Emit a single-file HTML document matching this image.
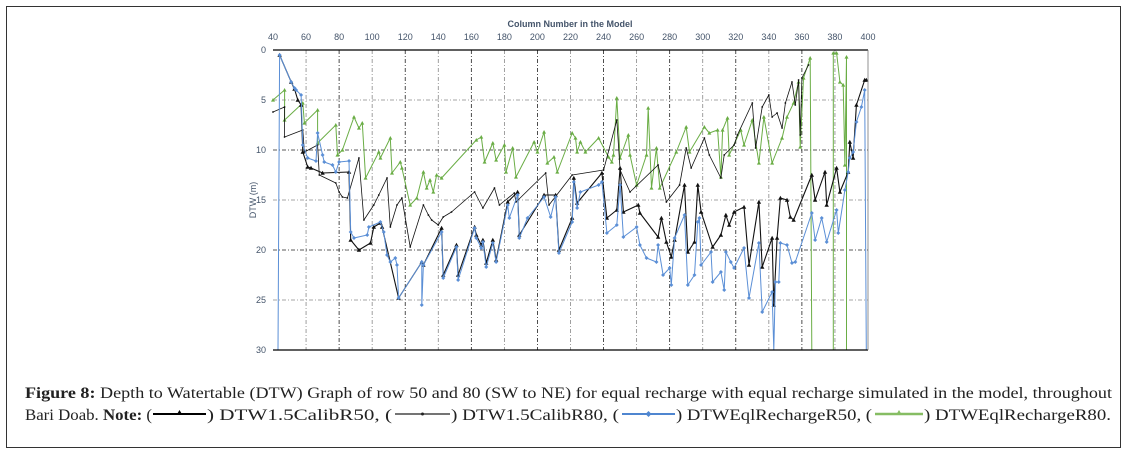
<!DOCTYPE html>
<html><head><meta charset="utf-8"><style>
html,body{margin:0;padding:0;background:#fff;}
svg{display:block;}
</style></head><body>
<svg id="chart" width="1128" height="452" viewBox="0 0 1128 452" xmlns="http://www.w3.org/2000/svg">
<rect x="6.5" y="6.5" width="1114" height="441" fill="none" stroke="#333" stroke-width="1"/>
<g id="grid"></g>
<g id="series"></g>
<g id="axes"></g>
<text x="570" y="27" font-family="Liberation Sans, sans-serif" font-size="9" font-weight="bold" fill="#44546a" text-anchor="middle">Column Number in the  Model</text>
<text transform="translate(256,200) rotate(-90)" font-family="Liberation Sans, sans-serif" font-size="9" fill="#44546a" text-anchor="middle">DTW  (m)</text>
<g font-family="Liberation Serif, serif" font-size="15.5" fill="#222">
<text x="25" y="398" textLength="1087" lengthAdjust="spacingAndGlyphs"><tspan font-weight="bold">Figure 8:</tspan> Depth to Watertable (DTW) Graph of row 50 and 80 (SW to NE) for equal recharge with equal recharge simulated in the model, throughout</text>
<text x="25" y="420" textLength="127" lengthAdjust="spacingAndGlyphs">Bari Doab. <tspan font-weight="bold">Note:</tspan> (</text>
</g>
<g id="legend"></g>
</svg>
<script>
// ---- data ----
const xTicks=[40,60,80,100,120,140,160,180,200,220,240,260,280,300,320,340,360,380,400];
const yTicks=[0,5,10,15,20,25,30];
const seriesNames=["DTW1.5CalibR50","DTW1.5CalibR80","DTWEqlRechargeR50","DTWEqlRechargeR80"];
const calibR50Cols=[44,51,53,55,57,58,61,63,70,86,87,92,99,101,105,106,116,130,131,142,143,151,152,162,163,166,167,169,173,175,182,188,189,204,211,213,221,222,224,239,242,248,250,252,261,262,273,275,278,281,283,289,291,295,297,299,306,311,314,316,319,325,328,334,336,342,343,345,347,351,353,355,366,368,374,375,381,383,388,389,391,393,398,399];
const calibR50Vals=[0.5,3.2,3.9,5,5.5,10.2,11.7,11.8,12.3,12.2,19,20,19.3,17.7,17.3,17.7,24.8,21.2,21.5,17.8,22.5,19.5,22.5,17.7,18.5,19.5,19,21.3,19,21,15.2,14.2,18.5,14.5,14.5,20,16.8,12.8,15.3,12.3,16.8,16,11.8,16.2,15.5,16.3,18.7,16.8,19.2,20.7,19,13.5,20.2,19.2,13.5,16.2,19.7,18.5,16.5,17.5,16.2,15.7,21.5,15.2,21.7,18.8,25.5,18.8,14.8,15,16.7,17,12.5,15,12.2,15.5,11.8,14.2,12.2,9.2,10.8,5.5,3,3];
const calibR80Cols=[40,47,47,58,59,67,68,78,80,82,85,92,95,101,104,109,111,115,118,123,131,134,136,140,143,148,162,167,174,177,186,187,205,207,221,240,248,250,256,273,278,286,290,293,301,304,311,313,319,321,330,332,336,340,342,345,348,350,354,356,358,359,360,364];
const calibR80Vals=[6.2,5.7,8.7,8,10.2,9.5,12.5,13.3,14.2,14.7,14.8,10.8,17,15.5,14.5,12.8,17.7,15.5,14.8,19.7,15.5,16.5,17,17.5,16.7,16.2,14.2,15.8,13.8,15.5,14.3,15.2,12.3,15.5,12.5,12,7,12,14.2,11.5,15.2,13.5,9.8,11.8,8.8,10.5,12.8,10.5,9.5,8.5,5.3,9.8,5.7,4.5,6.7,6.3,7.8,5.3,3.2,5.5,3,8.5,2.8,1.5];
const eqlR50Cols=[43,44,51,53,54,57,58,61,66,67,70,71,76,78,80,86,87,89,97,98,105,107,109,111,114,115,116,130,130,131,142,143,151,152,162,163,166,167,169,173,175,182,183,188,189,194,204,208,211,213,221,222,224,226,237,239,242,248,250,252,260,262,266,272,273,276,280,281,283,289,291,295,297,298,299,305,306,311,313,314,317,319,325,328,334,336,342,343,344,346,347,351,354,356,366,368,372,375,381,382,386,388,389,391,393,396,398,399];
const eqlR50Vals=[30,0.5,3.2,3.8,4,4.5,9.5,10.8,11.1,8.3,10.5,11.2,11.5,12.2,11.2,11.1,18.2,18.8,18.5,17.7,17.2,18.2,20.5,21.2,20.8,21.5,24.8,21.2,25.5,21.5,18.2,22.8,19.7,23,17.8,18.8,19.8,19.2,21.7,19.3,21.2,15.5,16.8,14.5,18.8,16.8,14.7,16.7,14.7,20.3,17.2,13.2,15.8,14.2,13.5,13.2,18.3,17.5,13.5,18.7,17.7,19.5,20.8,21.2,19.5,22.5,21.8,23.5,18.8,16.5,23.5,22.5,17.2,16.8,21.5,20.2,23.2,22.2,24,20.2,21.2,21.8,19.8,24.8,19.3,26.2,24.2,30,23.2,23.2,19.3,19.5,21.3,21.2,16.3,19,16.8,19.2,16,18.3,14,12.2,10.8,10.2,7.2,5.7,4,30];
const eqlR80Cols=[40,47,47,58,59,67,67,78,79,82,89,92,94,96,104,105,111,112,117,118,123,127,131,133,135,137,139,142,163,166,168,173,175,180,181,185,187,198,200,204,206,210,212,221,223,224,226,229,237,243,245,246,248,250,255,256,260,266,267,269,272,274,284,290,292,301,304,309,311,312,315,316,323,325,330,334,337,342,348,351,355,358,359,361,365,366,379,379,381,383,385,386,387,387];
const eqlR80Vals=[5,4,7,5.3,7.3,6,9.3,7.5,10.5,10,6.7,7.8,7.3,12.8,10.2,10.8,8.8,12.3,11.2,11.8,15.5,14.8,12.2,13.8,13,14.2,12.5,12.8,9,8.7,11.2,9.3,11,9.5,12.2,9.8,12.7,9.2,10.2,8.2,11.3,10.7,12.2,8.3,8.8,10.2,9.2,10.2,8.8,10.7,11.2,10.5,4.8,10.8,8.5,10.5,13.5,10.5,5.8,13.8,9.8,13.8,10.2,7.7,10.2,7.7,8.3,8,12.7,8,6.8,10.5,8,9.5,7,11.3,6.7,11.3,8.8,6.7,5.3,3.2,9.7,2.8,0.8,30,30,0.3,0.3,3.2,3.5,11.5,0.7,30];

// ---- axes ----
const X0=273,X1=868,Y0=50,Y1=350;
const xs=c=>X0+(c-40)*(X1-X0)/360;
const ys=d=>Y0+d*(Y1-Y0)/30;
const NS="http://www.w3.org/2000/svg";
function mk(tag,attrs,parent){const e=document.createElementNS(NS,tag);for(const k in attrs)e.setAttribute(k,attrs[k]);parent.appendChild(e);return e;}
const gridG=document.getElementById('grid'),axesG=document.getElementById('axes'),serG=document.getElementById('series'),legG=document.getElementById('legend');

xTicks.forEach((t,i)=>{
  if(i>0&&i<xTicks.length-1){const l=mk('line',{x1:xs(t),x2:xs(t),y1:Y0,y2:Y1,stroke:(t%40===0)?'#222':'#888','stroke-width':'0.8','stroke-dasharray':'4,2,1,2'},gridG);
  
  }
  const tx=mk('text',{x:xs(t),y:40,'font-family':'Liberation Sans, sans-serif','font-size':'9',fill:'#44546a','text-anchor':'middle'},axesG);
  tx.textContent=t;
  
  
});
yTicks.forEach((t,i)=>{
  if(i>0&&i<yTicks.length-1){const l=mk('line',{x1:X0,x2:X1,y1:ys(t),y2:ys(t),stroke:(t%10===0)?'#222':'#888','stroke-width':'0.8','stroke-dasharray':'4,2,1,2'},gridG);
  
  }
  const tx=mk('text',{x:266,y:ys(t)+3,'font-family':'Liberation Sans, sans-serif','font-size':'9',fill:'#44546a','text-anchor':'end'},axesG);
  tx.textContent=t;
  
  
});
const axTop=mk('line',{x1:X0,x2:X1,y1:Y0,y2:Y0,stroke:'#000','stroke-width':'1.2'},axesG);


const axBot=mk('line',{x1:X0,x2:X1,y1:Y1,y2:Y1,stroke:'#000','stroke-width':'1.2'},axesG);


const axRgt=mk('line',{x1:X1,x2:X1,y1:Y0,y2:Y1,stroke:'#777','stroke-width':'0.8'},axesG);



const styles=[
 {cols:calibR50Cols,vals:calibR50Vals,color:'#111',w:1.1,m:'tri',ms:2.2,name:'series-dtw1.5-calib-r50'},
 {cols:calibR80Cols,vals:calibR80Vals,color:'#111',w:0.8,m:'dot',ms:0.9,name:'series-dtw1.5-calib-r80'},
 {cols:eqlR50Cols,vals:eqlR50Vals,color:'#5b8fd6',w:1,m:'dia',ms:2,name:'series-dtw-eql-recharge-r50'},
 {cols:eqlR80Cols,vals:eqlR80Vals,color:'#6aad45',w:1,m:'tri',ms:2,name:'series-dtw-eql-recharge-r80'}
];
[3,1,0,2].forEach(si=>{
  const s=styles[si];
  const n=Math.min(s.cols.length,s.vals.length);
  const g=mk('g',{},serG);
  
  
  const arr=[];
  for(let i=0;i<n;i++)arr.push(xs(s.cols[i]).toFixed(1)+','+ys(s.vals[i]).toFixed(1));
  const pl=mk('polyline',{points:arr.join(' '),fill:'none',stroke:s.color,'stroke-width':s.w,'stroke-linejoin':'round'},g);
  
  
  for(let i=0;i<n;i++){
    if(s.vals[i]>=29.9)continue;
    const x=xs(s.cols[i]),y=ys(s.vals[i]),r=s.ms;let e;
    if(s.m==='tri')e=mk('polygon',{points:`${x},${y-r} ${x-r},${y+r*0.8} ${x+r},${y+r*0.8}`,fill:s.color},g);
    else if(s.m==='dia')e=mk('polygon',{points:`${x},${y-r} ${x+r},${y} ${x},${y+r} ${x-r},${y}`,fill:s.color},g);
    else e=mk('circle',{cx:x,cy:y,r:r,fill:s.color},g);
    
    
  }
});

const legItems=[
 {s0:153,s1:206,tx:207,tl:185,text:') DTW1.5CalibR50, (',color:'#000',sw:2,m:'tri'},
 {s0:395,s1:450,tx:451,tl:168,text:') DTW1.5CalibR80, (',color:'#222',sw:1.3,m:'dot'},
 {s0:622,s1:675,tx:676,tl:196,text:') DTWEqlRechargeR50, (',color:'#4f86d0',sw:2,m:'dia'},
 {s0:875,s1:923,tx:924,tl:187,text:') DTWEqlRechargeR80.',color:'#86bd63',sw:2.5,m:'tri'}
];
legItems.forEach((it,i)=>{
  const y=414;
  const l=mk('line',{x1:it.s0,x2:it.s1,y1:y,y2:y,stroke:it.color,'stroke-width':it.sw},legG);
  
  
  const cx=(it.s0+it.s1)/2;let m;
  if(it.m==='tri')m=mk('polygon',{points:`${cx},${y-4} ${cx-3},${y+1} ${cx+3},${y+1}`,fill:it.color},legG);
  else if(it.m==='dia')m=mk('polygon',{points:`${cx},${y-3} ${cx+3},${y} ${cx},${y+3} ${cx-3},${y}`,fill:it.color},legG);
  else m=mk('circle',{cx:cx,cy:y,r:1.5,fill:it.color},legG);
  
  
  const t=mk('text',{x:it.tx,y:420,'font-family':'Liberation Serif, serif','font-size':'15.5',fill:'#222',textLength:it.tl,lengthAdjust:'spacingAndGlyphs'},legG);
  t.textContent=it.text;
  
  
});
</script>
</body></html>
